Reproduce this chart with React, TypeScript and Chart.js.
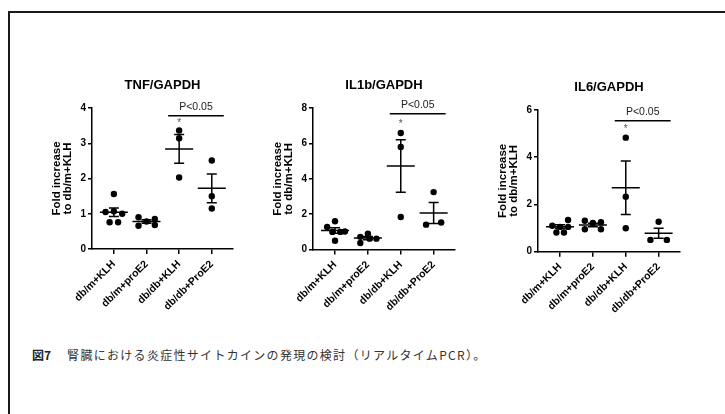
import { useEffect, useRef } from 'react';
import { Chart, registerables } from 'chart.js';

Chart.register(...registerables);

const groups = ['db/m+KLH', 'db/m+proE2', 'db/db+KLH', 'db/db+ProE2'];
const yTitle = ['Fold increase', 'to db/m+KLH'];
const sigLabel = 'P<0.05';
const caption = '腎臓における炎症性サイトカインの発現の検討（リアルタイムPCR）。';

const tnfValues = [[1.56, 1.05, 1.07, 1.0, 0.76, 0.76], [0.9, 0.85, 0.78, 0.66, 0.68], [3.36, 3.14, 2.03], [2.51, 1.5, 1.15]];
const tnfJitter = [[0, -0.255, 0, 0.255, -0.13, 0.13], [-0.245, 0.255, 0, -0.245, 0.255], [0, 0, 0], [0, 0, 0]];
const tnfMean = [1.04, 0.78, 2.84, 1.72];
const tnfSem = [0.12, 0.05, 0.41, 0.41];

const il1bValues = [[1.6, 1.28, 1.0, 1.0, 1.02, 0.5], [0.72, 0.9, 0.37, 0.62, 0.62], [6.59, 5.8, 1.84], [3.25, 1.41, 1.53]];
const il1bJitter = [[0, -0.24, -0.08, 0.16, 0.3, 0], [-0.23, 0, -0.23, 0.05, 0.26], [0, 0, 0], [0, -0.23, 0.23]];
const il1bMean = [1.08, 0.65, 4.72, 2.07];
const il1bSem = [0.15, 0.09, 1.48, 0.59];

const il6Values = [[1.1, 1.05, 1.34, 0.81, 0.81, 1.05], [1.31, 1.25, 1.22, 0.95, 0.95], [4.83, 2.33, 0.99], [1.27, 0.5, 0.5]];
const il6Jitter = [[-0.235, 0, 0.245, -0.11, 0.12, 0.245], [-0.245, 0.245, 0, -0.245, 0.245], [0, 0, 0], [0, -0.25, 0.25]];
const il6Mean = [1.06, 1.13, 2.71, 0.78];
const il6Sem = [0.08, 0.07, 1.13, 0.21];

type PanelCfg = {
  title: string;
  values: number[][];
  jitter: number[][];
  mean: number[];
  sem: number[];
  yMax: number;
  yStep: number;
  sigY: number;
  starY: number;
  area: { l: number; t: number; r: number; b: number };
};

const panels: PanelCfg[] = [
  { title: 'TNF/GAPDH', values: tnfValues, jitter: tnfJitter, mean: tnfMean, sem: tnfSem, yMax: 4, yStep: 1, sigY: 3.78, starY: 3.61, area: { l: 92, t: 108, r: 233, b: 249 } },
  { title: 'IL1b/GAPDH', values: il1bValues, jitter: il1bJitter, mean: il1bMean, sem: il1bSem, yMax: 8, yStep: 2, sigY: 7.68, starY: 7.2, area: { l: 313, t: 107.7, r: 455, b: 249.3 } },
  { title: 'IL6/GAPDH', values: il6Values, jitter: il6Jitter, mean: il6Mean, sem: il6Sem, yMax: 6, yStep: 2, sigY: 5.55, starY: 5.27, area: { l: 538, t: 110, r: 680, b: 251.7 } },
];

const FONT = '"Liberation Sans", Arial, sans-serif';
const W = 210;
const H = 260;
const AXIS_W = 52;
const TOP = 48;

function Panel({ cfg }: { cfg: PanelCfg }) {
  const ref = useRef<HTMLCanvasElement>(null);
  useEffect(() => {
    if (!ref.current) return;
    const areaW = cfg.area.r - cfg.area.l;
    const areaH = cfg.area.b - cfg.area.t;
    const points: { x: number; y: number }[] = [];
    cfg.values.forEach((arr, gi) => {
      arr.forEach((v, k) => points.push({ x: gi + cfg.jitter[gi][k], y: v }));
    });
    const overlay = {
      id: 'overlay',
      afterDatasetsDraw(chart: any) {
        const { ctx, chartArea } = chart;
        const x = chart.scales.x;
        const y = chart.scales.y;
        ctx.save();
        ctx.strokeStyle = '#000';
        ctx.lineWidth = 1.5;
        cfg.mean.forEach((m, i) => {
          const px = x.getPixelForValue(i);
          const pm = y.getPixelForValue(m);
          const pu = y.getPixelForValue(m + cfg.sem[i]);
          const pl = y.getPixelForValue(m - cfg.sem[i]);
          ctx.beginPath();
          ctx.moveTo(px - 14, pm);
          ctx.lineTo(px + 14, pm);
          ctx.moveTo(px, pu);
          ctx.lineTo(px, pl);
          ctx.moveTo(px - 5, pu);
          ctx.lineTo(px + 5, pu);
          ctx.moveTo(px - 5, pl);
          ctx.lineTo(px + 5, pl);
          ctx.stroke();
        });
        ctx.fillStyle = '#000';
        ctx.font = `bold 13px ${FONT}`;
        ctx.textAlign = 'center';
        ctx.textBaseline = 'middle';
        ctx.fillText(cfg.title, (chartArea.left + chartArea.right) / 2, chartArea.top - 22.5);
        const x1 = x.getPixelForValue(2) - 11;
        const x2 = x.getPixelForValue(3) + 12;
        const yb = y.getPixelForValue(cfg.sigY);
        ctx.beginPath();
        ctx.moveTo(x1, yb);
        ctx.lineTo(x2, yb);
        ctx.stroke();
        ctx.font = `10.5px ${FONT}`;
        ctx.fillStyle = '#222';
        ctx.fillText(sigLabel, (x1 + x2) / 2, yb - 9);
        ctx.font = `10px ${FONT}`;
        ctx.fillStyle = '#555';
        ctx.fillText('*', x.getPixelForValue(2), y.getPixelForValue(cfg.starY) + 2);
        ctx.restore();
      },
    };
    const chart = new Chart(ref.current, {
      type: 'scatter',
      data: {
        datasets: [
          {
            data: points,
            pointRadius: 3.2,
            pointHoverRadius: 3.2,
            backgroundColor: '#000',
            borderWidth: 0,
          },
        ],
      },
      options: {
        animation: false,
        responsive: false,
        devicePixelRatio: 1,
        layout: { padding: { left: 0, right: W - AXIS_W - areaW, top: TOP, bottom: 0 } },
        plugins: { legend: { display: false }, tooltip: { enabled: false } },
        scales: {
          x: {
            type: 'linear',
            min: -0.67,
            max: 3.65,
            afterBuildTicks: (axis: any) => {
              axis.ticks = groups.map((_, i) => ({ value: i }));
            },
            afterFit: (axis: any) => {
              axis.height = H - TOP - areaH;
            },
            ticks: {
              autoSkip: false,
              minRotation: 45,
              maxRotation: 45,
              padding: 4,
              color: '#000',
              font: { family: FONT, weight: 'bold', size: 10.5 },
              callback: (v: any) => groups[v as number] ?? '',
            },
            grid: { display: true, drawOnChartArea: false, drawTicks: true, tickLength: 5, color: '#000', lineWidth: 1.5 },
            border: { display: true, color: '#000', width: 1.5 },
          },
          y: {
            type: 'linear',
            min: 0,
            max: cfg.yMax,
            afterFit: (axis: any) => {
              axis.width = AXIS_W;
            },
            ticks: {
              stepSize: cfg.yStep,
              padding: 2,
              color: '#000',
              font: { family: FONT, weight: 'bold', size: 10 },
            },
            title: {
              display: true,
              text: yTitle,
              color: '#000',
              padding: { top: 11, bottom: 0 },
              font: { family: FONT, weight: 'bold', size: 11.5, lineHeight: 1.0 },
            },
            grid: { display: true, drawOnChartArea: false, drawTicks: true, tickLength: 4, color: '#000', lineWidth: 1.5 },
            border: { display: true, color: '#000', width: 1.5 },
          },
        },
      } as any,
      plugins: [overlay],
    });
    return () => chart.destroy();
  }, [cfg]);
  return (
    <canvas
      ref={ref}
      width={W}
      height={H}
      style={{ position: 'absolute', left: cfg.area.l - AXIS_W, top: cfg.area.t - TOP, width: W, height: H }}
    />
  );
}

export default function App() {
  useEffect(() => {
    document.body.style.margin = '0';
  }, []);
  return (
    <div style={{ position: 'fixed', left: 0, top: 0, width: 725, height: 414, background: '#fff', overflow: 'hidden' }}>
      <div style={{ position: 'absolute', left: 8, top: 11, width: 740, height: 420, borderTop: '2px solid #1a1a1a', borderLeft: '2px solid #1a1a1a' }} />
      {panels.map((p) => (
        <Panel key={p.title} cfg={p} />
      ))}
      <div
        style={{
          position: 'absolute',
          left: 32,
          top: 347,
          fontFamily: '"Noto Sans CJK JP", sans-serif',
          fontSize: 12,
          color: '#333',
          whiteSpace: 'nowrap',
          lineHeight: '16px',
        }}
      >
        <b style={{ color: '#222' }}>図7</b>
        <span style={{ marginLeft: 16, letterSpacing: 1.3 }}>{caption}</span>
      </div>
    </div>
  );
}
